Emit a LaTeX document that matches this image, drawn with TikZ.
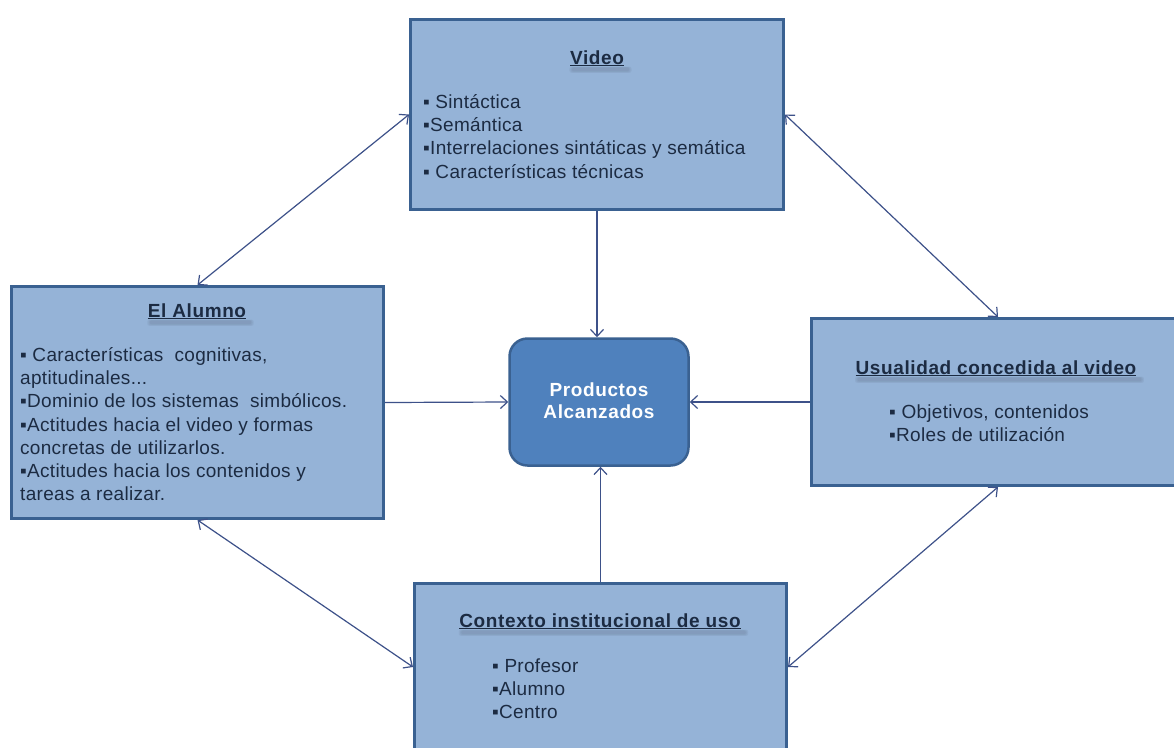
\documentclass[tikz,border=0pt]{standalone}
\usepackage{fontspec}
\setmainfont{Liberation Sans}[LetterSpace=1.6, BoldFeatures={LetterSpace=3.2}]
\usetikzlibrary{arrows.meta}

\definecolor{boxfill}{HTML}{95B3D7}
\definecolor{boxline}{HTML}{3A6191}
\definecolor{hubfill}{HTML}{4F81BD}
\definecolor{hubline}{HTML}{3A6191}
\definecolor{inktext}{HTML}{1C2B42}
\definecolor{linkcol}{HTML}{3D5189}
\definecolor{shadecol}{HTML}{5F6F86}

\tikzset{
  panel/.style={draw=boxline, line width=3pt, fill=boxfill, inner sep=0pt},
  hub/.style={draw=hubline, line width=2.5pt, fill=hubfill, rounded corners=18pt,
    minimum width=179pt, minimum height=127pt, inner sep=0pt},
  heading/.style={anchor=base, inner sep=0pt, text=inktext,
    font=\fontsize{19}{23}\selectfont\bfseries},
  itemlist/.style={anchor=north west, inner sep=0pt, align=left, text=inktext,
    font=\fontsize{19}{23.2}\selectfont},
  link/.style={draw=linkcol, line width=1.2pt,
    -{Straight Barb[length=7pt,width=13pt]}},
  biglink/.style={draw=linkcol, line width=1.2pt,
    {Straight Barb[length=7pt,width=13pt]}-{Straight Barb[length=7pt,width=13pt]}},
  softbar/.style={fill=shadecol, opacity=0.12, rounded corners=2pt},
}

% soft shadow below an underlined heading
\newcommand{\headshade}[1]{%
  \foreach \g in {0,1.2,2.4}{
    \fill[softbar] ([xshift={2pt-\g pt},yshift={-1pt+\g pt*0.3}]#1.south west)
      rectangle ([xshift={5pt+\g pt},yshift={-5pt-\g pt*0.6}]#1.south east);
  }}

\begin{document}
\begin{tikzpicture}[x=1pt, y=-1pt]
\useasboundingbox (0,0) rectangle (1174,747);
\fill[white] (0,0) rectangle (1174,747);
\clip (0,0) rectangle (1174,747);

% boxes
\node[panel, minimum width=373pt, minimum height=190pt] (video) at (597,114.5) {};
\node[panel, minimum width=372pt, minimum height=232pt] (alumno) at (197.5,402.5) {};
\node[panel, minimum width=373pt, minimum height=167pt] (usual) at (998,402) {};
\node[panel, minimum width=372pt, minimum height=167pt] (ctx) at (600.5,667) {};
\node[hub] (prod) at (599,402) {};

% headings
\node[heading] (videoT) at (597,64) {\underline{Video}};
\node[heading] (alumnoT) at (197,317) {\underline{El Alumno}};
\node[heading] (usualT) at (996,374) {\underline{Usualidad concedida al video}};
\node[heading] (ctxT) at (600,627) {\underline{Contexto institucional de uso}};
\headshade{videoT}
\headshade{alumnoT}
\headshade{usualT}
\headshade{ctxT}

% item lists
\node[itemlist] (videoL) at (423,92) {\strut▪ Sintáctica\\ ▪Semántica\\ ▪Interrelaciones sintáticas y semática\\ ▪ Características técnicas};
\node[itemlist] (alumnoL) at (20,345) {\strut▪ Características\ \ cognitivas,\\ aptitudinales...\\ ▪Dominio de los sistemas\ \ simbólicos.\\ ▪Actitudes hacia el video y formas\\ concretas de utilizarlos.\\ ▪Actitudes hacia los contenidos y\\ tareas a realizar.};
\node[itemlist] (usualL) at (889,402) {\strut▪ Objetivos, contenidos\\ ▪Roles de utilización};
\node[itemlist] (ctxL) at (492,656) {\strut▪ Profesor\\ ▪Alumno\\ ▪Centro};

% central label
\node[align=center, text=white, font=\fontsize{19}{22}\selectfont\bfseries, inner sep=0pt] (prodT) at (599,401)
  {Productos\\ Alcanzados};

% connectors
\draw[biglink] (video.west) -- (alumno.north);
\draw[biglink] (video.east) -- (usual.north);
\draw[biglink] (alumno.south) -- (ctx.west);
\draw[biglink] (usual.south) -- (ctx.east);
\draw[link] (video.south) -- (video.south |- prod.north);
\draw[link] (ctx.north) -- (ctx.north |- prod.south);
\draw[link] (alumno.east) -- (prod.west);
\draw[link] (usual.west) -- (prod.east);
\end{tikzpicture}
\end{document}
